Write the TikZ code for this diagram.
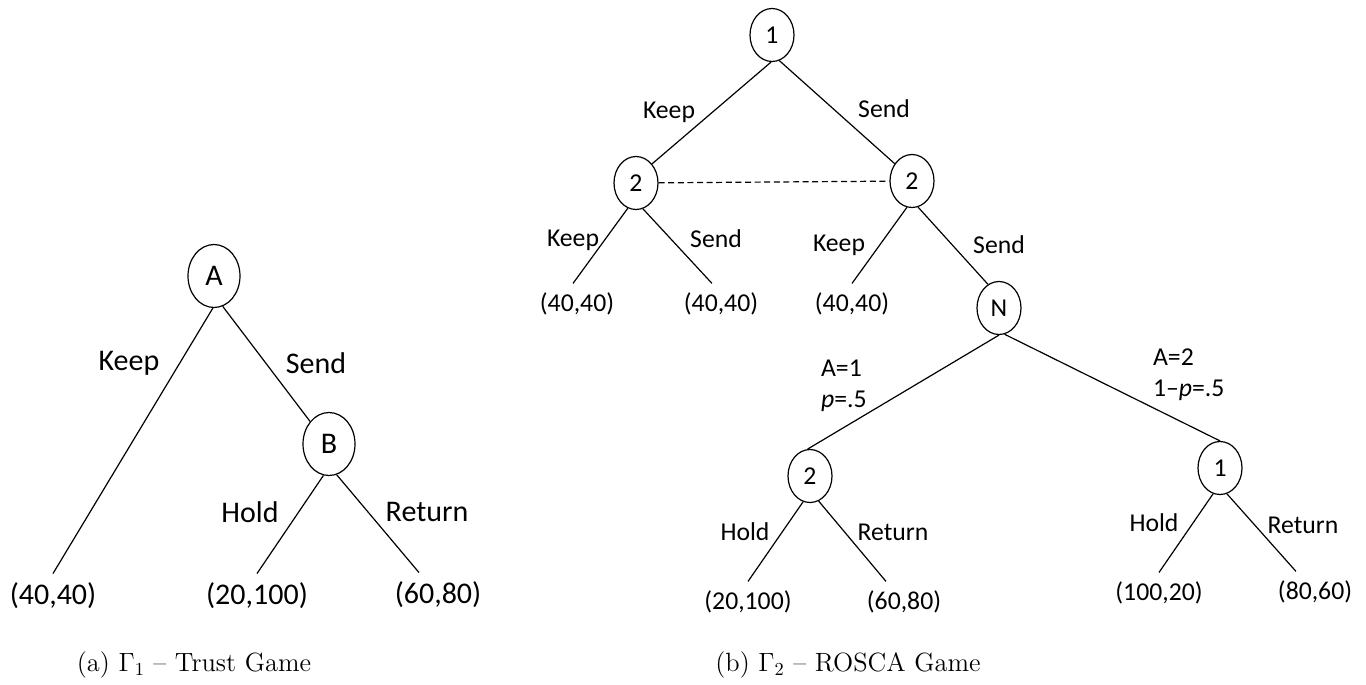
\documentclass[tikz,border=0pt]{standalone}
\usepackage{fontspec}
\newfontfamily\treefont[Ligatures=TeX]{Carlito}
\usetikzlibrary{shapes.geometric}

\begin{document}
\begin{tikzpicture}[x=0.5pt,y=-0.5pt,
    trust/.style={font=\treefont\fontsize{15}{18}\selectfont},
    rosca/.style={font=\treefont\fontsize{12.85}{15.5}\selectfont},
    player/.style={ellipse,draw,line width=0.6pt,inner sep=0pt},
    trustplayer/.style={player,trust,minimum width=26pt,minimum height=31.5pt},
    roscaplayer/.style={player,rosca,minimum width=22pt,minimum height=26.5pt},
    payoff/.style={inner sep=4.5pt},
    move/.style={line width=0.6pt}]
      \useasboundingbox (0,0) rectangle (1366,685);

      \node (A) at (214,276) [trustplayer] {A};
      \node (B) at (329,444) [trustplayer] {B};
      \node (A1) at (53,596) [payoff,trust] {(40,40)};
      \node (B1) at (257,596) [payoff,trust] {(20,100)};
      \node (B2) at (438,595) [payoff,trust] {(60,80)};

      \draw[move] (A.-92) -- (A1.north);
      \draw[move] (A.-74) -- (B.130);
      \draw[move] (B.-100) -- (B1.north);
      \draw[move] (B.-76) -- ([xshift=-9.5pt]B2.north);

      \node (akeep) at (129,363) [trust] {Keep};
      \node (asend) at (316,363) [trust] {Send};
      \node (bhold) at (250,512) [trust] {Hold};
      \node (bret) at (427,512) [trust] {Return};

      \node (one) at (772,35) [roscaplayer] {1};
      \node (twoL) at (636,183) [roscaplayer] {2};
      \node (twoR) at (912,181) [roscaplayer] {2};
      \node (nat) at (999,308) [roscaplayer] {N};
      \node (twoA) at (810,476) [roscaplayer] {2};
      \node (oneA) at (1220,468) [roscaplayer] {1};

      \node (L1) at (577,304) [payoff,rosca] {(40,40)};
      \node (L2) at (721,304) [payoff,rosca] {(40,40)};
      \node (R1) at (852,304) [payoff,rosca] {(40,40)};
      \node (A2a) at (748,602) [payoff,rosca] {(20,100)};
      \node (A2b) at (904,602) [payoff,rosca] {(60,80)};
      \node (A1a) at (1159,593) [payoff,rosca] {(100,20)};
      \node (A1b) at (1315,592) [payoff,rosca] {(80,60)};

      \draw[move] (one.-92) -- (twoL.50);
      \draw[move] (one.-74) -- (twoR.135);
      \draw[move,dash pattern=on 3pt off 1.8pt] (twoL) -- (twoR);
      \draw[move] (twoL.-108) -- ([xshift=-2pt]L1.north);
      \draw[move] (twoL.-75) -- ([xshift=-4.5pt]L2.north);
      \draw[move] (twoR.-101) -- (R1.north);
      \draw[move] (twoR.-77) -- (nat.115);
      \draw[move] (nat.-90) -- (twoA.95);
      \draw[move] (nat.-78) -- (oneA.90);
      \draw[move] (twoA.-105) -- (A2a.north);
      \draw[move] (twoA.-71) -- ([xshift=-9pt]A2b.north);
      \draw[move] (oneA.-105) -- (A1a.north);
      \draw[move] (oneA.-75) -- ([xshift=-9.5pt]A1b.north);

      \node (keep1) at (669,112) [rosca] {Keep};
      \node (send1) at (884,109) [rosca] {Send};
      \node (keep2) at (573,240) [rosca] {Keep};
      \node (send2) at (716,239) [rosca] {Send};
      \node (keep3) at (839,245) [rosca] {Keep};
      \node (send3) at (999,245) [rosca] {Send};
      \node (draw1) at (814,386) [rosca,anchor=west,align=left] {A=1\\\textit{p}=.5};
      \node (draw2) at (1146,375) [rosca,anchor=west,align=left] {A=2\\1--\textit{p}=.5};
      \node (hold2) at (745,532) [rosca] {Hold};
      \node (ret2) at (893,532) [rosca] {Return};
      \node (hold1) at (1154,523) [rosca] {Hold};
      \node (ret1) at (1303,525) [rosca] {Return};

      \node (capa) at (194,665) {\scalebox{0.917}{\Large (a) $\Gamma_1$ -- Trust Game}};
      \node (capb) at (848,665) {\scalebox{0.917}{\Large (b) $\Gamma_2$ -- ROSCA Game}};
    \end{tikzpicture}
\end{document}
